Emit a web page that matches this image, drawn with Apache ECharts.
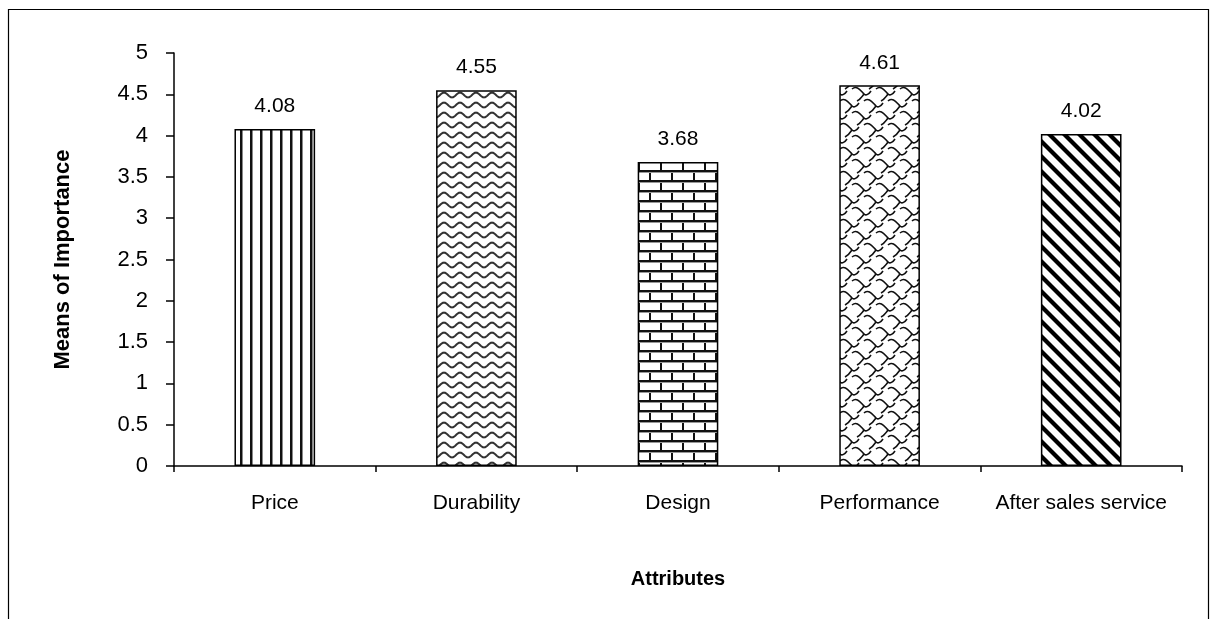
<!DOCTYPE html>
<html>
<head>
<meta charset="utf-8">
<script src="https://cdn.jsdelivr.net/npm/echarts@6/dist/echarts.min.js"></script>
<style>
html,body{margin:0;padding:0;background:#fff;}
#chart{width:1210px;height:619px;}
</style>
</head>
<body>
<div id="chart"></div>
<script>
const categories = ['Price', 'Durability', 'Design', 'Performance', 'After sales service'];
const values = [4.08, 4.55, 3.68, 4.61, 4.02];
const yTicks = [0, 0.5, 1, 1.5, 2, 2.5, 3, 3.5, 4, 4.5, 5];

function mk(w, h, draw) {
  const c = document.createElement('canvas');
  c.width = w; c.height = h;
  const g = c.getContext('2d');
  g.fillStyle = '#fff'; g.fillRect(0, 0, w, h);
  g.strokeStyle = '#000'; g.fillStyle = '#000';
  draw(g, w, h);
  return c;
}
const patVertical = mk(10, 10, (g) => {
  g.fillStyle = '#111'; g.fillRect(0, 0, 2, 10);
  g.fillStyle = '#888'; g.fillRect(2, 0, 1, 10);
});
const patWave = mk(16, 10, (g, w) => {
  g.lineWidth = 2; g.strokeStyle = '#333';
  g.beginPath();
  for (let x = -1; x <= w + 1; x += 0.5) {
    const y = 5 + 2.4 * Math.sin(x / w * 2 * Math.PI);
    if (x === -1) g.moveTo(x, y); else g.lineTo(x, y);
  }
  g.stroke();
});
const patBrick = mk(22, 20, (g) => {
  g.fillStyle = '#111';
  g.fillRect(0, 0, 22, 2);
  g.fillRect(0, 10, 22, 2);
  g.fillRect(0, 0, 2, 10);
  g.fillRect(11, 10, 2, 10);
  g.fillStyle = '#999';
  g.fillRect(0, 2, 22, 1);
  g.fillRect(0, 12, 22, 1);
});
const patWeave = mk(24, 24, (g) => {
  g.lineWidth = 1.6; g.strokeStyle = '#111';
  const seg = (ox, oy) => {
    g.beginPath();
    g.moveTo(ox, oy);
    g.bezierCurveTo(ox + 5, oy - 4, ox + 8, oy + 1, ox + 12, oy + 5);
    g.bezierCurveTo(ox + 14, oy + 7, ox + 17, oy + 5, ox + 19, oy + 2);
    g.stroke();
    g.beginPath();
    g.moveTo(ox + 12, oy + 5);
    g.bezierCurveTo(ox + 10, oy + 8, ox + 7, oy + 11, ox + 5, oy + 12);
    g.stroke();
  };
  for (let dx = -24; dx <= 24; dx += 24)
    for (let dy = -24; dy <= 24; dy += 24) {
      seg(dx, dy + 5);
      seg(dx + 12, dy + 17);
    }
});
const patDiag = mk(15, 15, (g, s) => {
  g.lineWidth = 4.2; g.strokeStyle = '#000';
  [[-s, 0], [0, 0], [0, -s]].forEach(([ox, oy]) => {
    g.beginPath(); g.moveTo(ox - 2, oy - 2); g.lineTo(ox + s + 2, oy + s + 2); g.stroke();
  });
});
const patterns = [patVertical, patWave, patBrick, patWeave, patDiag];

const font = 'Liberation Sans, Arial, sans-serif';
const chart = echarts.init(document.getElementById('chart'), null, { renderer: 'canvas' });
chart.setOption({
  animation: false,
  backgroundColor: '#fff',
  graphic: [{
    type: 'rect',
    shape: { x: 8.5, y: 9.5, width: 1200, height: 700 },
    style: { fill: 'none', stroke: '#000', lineWidth: 1.2 },
    silent: true, z: 100
  }],
  grid: { left: 174, right: 28, top: 53, bottom: 153, containLabel: false },
  xAxis: {
    type: 'category',
    data: categories,
    name: 'Attributes',
    nameLocation: 'middle',
    nameGap: 103,
    nameTextStyle: { fontFamily: font, fontWeight: 'bold', fontSize: 20, color: '#000', verticalAlign: 'top' },
    axisLine: { lineStyle: { color: '#000', width: 1.5 } },
    axisTick: { show: true, alignWithLabel: false, length: 6, lineStyle: { color: '#000', width: 1.5 } },
    axisLabel: { fontFamily: font, fontSize: 21, color: '#000', margin: 27, interval: 0 },
    splitLine: { show: false }
  },
  yAxis: {
    type: 'value',
    min: 0, max: 5, interval: 0.5,
    name: 'Means of Importance',
    nameLocation: 'middle',
    nameGap: 100,
    nameRotate: 90,
    nameTextStyle: { fontFamily: font, fontWeight: 'bold', fontSize: 22, color: '#000' },
    axisLine: { show: true, lineStyle: { color: '#000', width: 1.5 } },
    axisTick: { show: true, length: 8, lineStyle: { color: '#000', width: 1.5 } },
    axisLabel: { fontFamily: font, fontSize: 22, color: '#000', margin: 26,
      formatter: (v) => { const t = yTicks.find(x => Math.abs(x - v) < 1e-9); return t === undefined ? '' : String(t); } },
    splitLine: { show: false }
  },
  series: [{
    type: 'bar',
    barWidth: '40%',
    data: values.map((v, i) => ({
      value: v,
      itemStyle: { color: { image: patterns[i], repeat: 'repeat' }, borderColor: '#000', borderWidth: 1.5 }
    })),
    label: { show: true, position: 'top', distance: 12, fontFamily: font, fontSize: 21, color: '#000',
      formatter: (p) => p.value.toFixed(2) }
  }]
});
</script>
</body>
</html>
